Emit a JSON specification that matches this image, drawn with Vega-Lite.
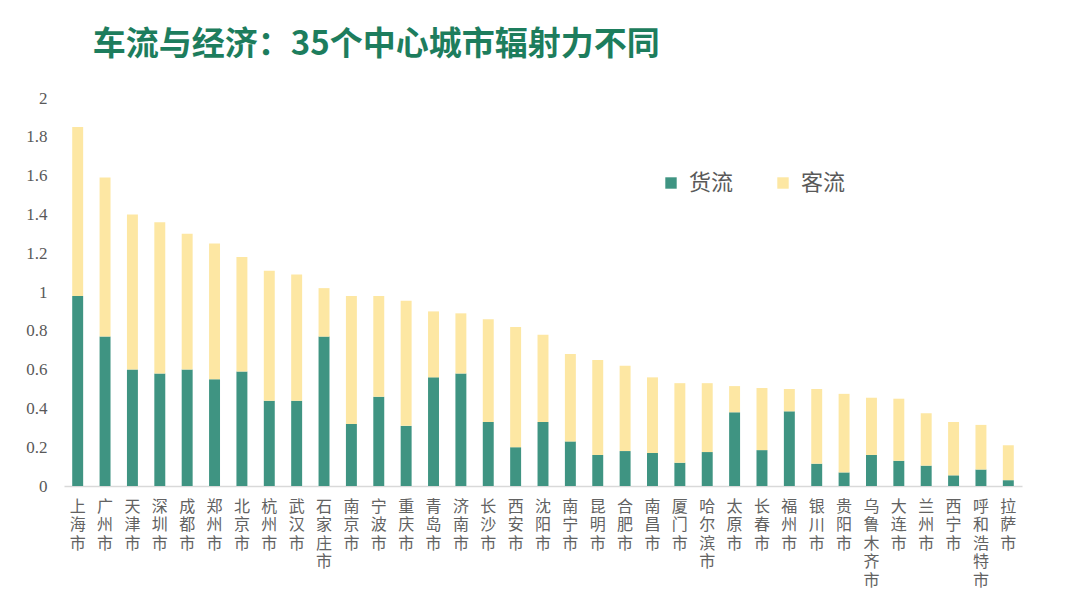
{
  "$schema": "https://vega.github.io/schema/vega-lite/v6.json",
  "autosize": {"type": "none"},
  "width": 958,
  "height": 388,
  "padding": {"left": 64, "top": 98, "right": 58, "bottom": 121},
  "background": "white",
  "config": {"view": {"stroke": null}},
  "title": {
    "text": "车流与经济：35个中心城市辐射力不同",
    "anchor": "start",
    "orient": "top",
    "dx": 67,
    "offset": 27,
    "font": "Noto Sans CJK SC",
    "fontSize": 33,
    "fontWeight": "bold",
    "color": "#1d7d5d"
  },
  "data": {
    "values": [
      {"城市": "上海市", "货流": 0.98, "客流": 0.87},
      {"城市": "广州市", "货流": 0.77, "客流": 0.82},
      {"城市": "天津市", "货流": 0.6, "客流": 0.8},
      {"城市": "深圳市", "货流": 0.58, "客流": 0.78},
      {"城市": "成都市", "货流": 0.6, "客流": 0.7},
      {"城市": "郑州市", "货流": 0.55, "客流": 0.7},
      {"城市": "北京市", "货流": 0.59, "客流": 0.59},
      {"城市": "杭州市", "货流": 0.44, "客流": 0.67},
      {"城市": "武汉市", "货流": 0.44, "客流": 0.65},
      {"城市": "石家庄市", "货流": 0.77, "客流": 0.25},
      {"城市": "南京市", "货流": 0.32, "客流": 0.66},
      {"城市": "宁波市", "货流": 0.46, "客流": 0.52},
      {"城市": "重庆市", "货流": 0.31, "客流": 0.645},
      {"城市": "青岛市", "货流": 0.56, "客流": 0.34},
      {"城市": "济南市", "货流": 0.58, "客流": 0.31},
      {"城市": "长沙市", "货流": 0.33, "客流": 0.53},
      {"城市": "西安市", "货流": 0.2, "客流": 0.62},
      {"城市": "沈阳市", "货流": 0.33, "客流": 0.45},
      {"城市": "南宁市", "货流": 0.23, "客流": 0.45},
      {"城市": "昆明市", "货流": 0.16, "客流": 0.49},
      {"城市": "合肥市", "货流": 0.18, "客流": 0.44},
      {"城市": "南昌市", "货流": 0.17, "客流": 0.39},
      {"城市": "厦门市", "货流": 0.12, "客流": 0.41},
      {"城市": "哈尔滨市", "货流": 0.175, "客流": 0.355},
      {"城市": "太原市", "货流": 0.38, "客流": 0.135},
      {"城市": "长春市", "货流": 0.185, "客流": 0.32},
      {"城市": "福州市", "货流": 0.385, "客流": 0.115},
      {"城市": "银川市", "货流": 0.115, "客流": 0.385},
      {"城市": "贵阳市", "货流": 0.07, "客流": 0.405},
      {"城市": "乌鲁木齐市", "货流": 0.16, "客流": 0.295},
      {"城市": "大连市", "货流": 0.13, "客流": 0.32},
      {"城市": "兰州市", "货流": 0.105, "客流": 0.27},
      {"城市": "西宁市", "货流": 0.055, "客流": 0.275},
      {"城市": "呼和浩特市", "货流": 0.085, "客流": 0.23},
      {"城市": "拉萨市", "货流": 0.03, "客流": 0.18}
    ]
  },
  "transform": [
    {"fold": ["货流", "客流"], "as": ["类型", "数值"]},
    {"calculate": "datum['类型'] === '货流' ? 0 : 1", "as": "次序"}
  ],
  "mark": {"type": "bar"},
  "encoding": {
    "x": {
      "field": "城市",
      "type": "nominal",
      "sort": null,
      "scale": {"paddingInner": 0.6, "paddingOuter": 0.3},
      "axis": {
        "title": null,
        "labelAngle": 0,
        "labelExpr": "split(datum.label, '')",
        "labelFont": "Noto Sans CJK SC",
        "labelFontSize": 16,
        "labelLineHeight": 18.5,
        "labelColor": "#626262",
        "labelBaseline": "top",
        "labelPadding": 12,
        "ticks": false,
        "domainColor": "#d9d9d9",
        "domainWidth": 1.5,
        "labelOverlap": false
      }
    },
    "y": {
      "field": "数值",
      "type": "quantitative",
      "stack": "zero",
      "scale": {"domain": [0, 2], "nice": false},
      "axis": {
        "title": null,
        "values": [0, 0.2, 0.4, 0.6, 0.8, 1, 1.2, 1.4, 1.6, 1.8, 2],
        "format": ".1~f",
        "grid": false,
        "domain": false,
        "ticks": false,
        "labelFont": "Liberation Serif",
        "labelFontSize": 17,
        "labelColor": "#595959",
        "labelPadding": 17
      }
    },
    "color": {
      "field": "类型",
      "type": "nominal",
      "scale": {"domain": ["货流", "客流"], "range": ["#3f9482", "#fde7a3"]},
      "legend": {
        "title": null,
        "orient": "none",
        "legendX": 596,
        "legendY": 74,
        "direction": "horizontal",
        "symbolType": "square",
        "symbolSize": 130,
        "symbolStrokeWidth": 0,
        "labelFont": "Noto Sans CJK SC",
        "labelFontSize": 22,
        "labelColor": "#595959",
        "labelOffset": 7,
        "columnPadding": 38
      }
    },
    "order": {"field": "次序", "type": "quantitative"}
  }
}
